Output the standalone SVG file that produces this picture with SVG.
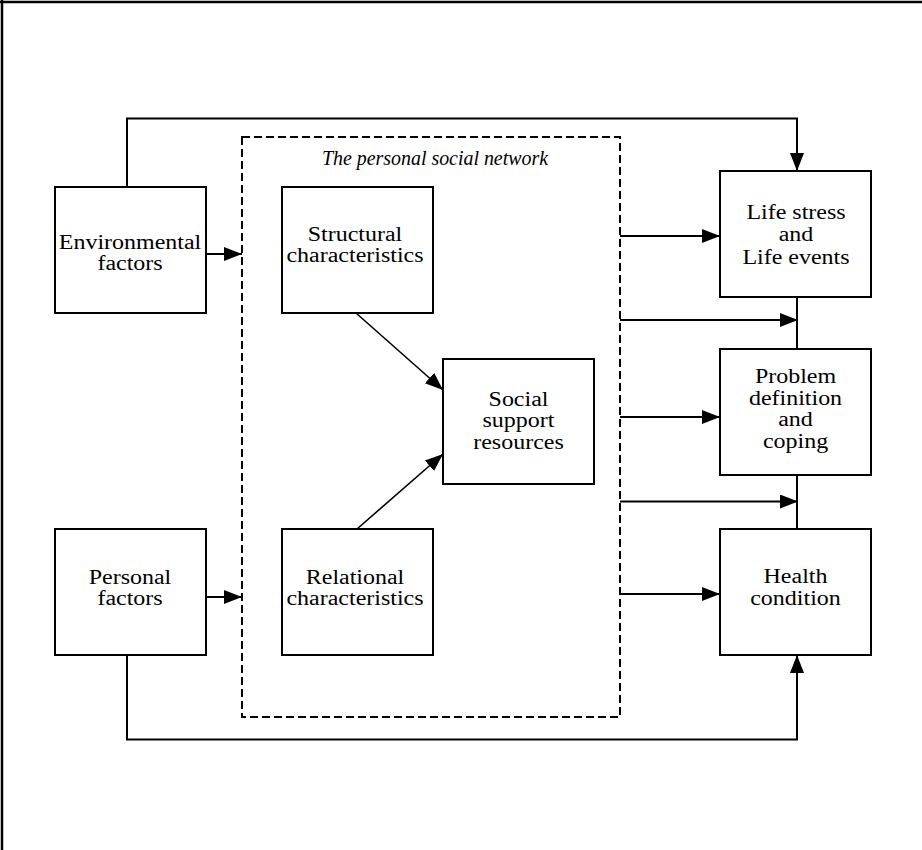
<svg xmlns="http://www.w3.org/2000/svg" width="922" height="850" viewBox="0 0 922 850">
<style>
.box{fill:#fff;stroke:#000;stroke-width:2}
.ln{fill:none;stroke:#000;stroke-width:2}
.dg{fill:none;stroke:#000;stroke-width:1.6}
.t{font-family:"Liberation Serif","Times New Roman",serif;font-size:20.5px;fill:#000;text-anchor:middle}
.ti{font-family:"Liberation Serif","Times New Roman",serif;font-size:20px;font-style:italic;fill:#000;text-anchor:middle}
</style>
<defs>
<marker id="ah" markerUnits="userSpaceOnUse" markerWidth="20" markerHeight="16" refX="18" refY="7" orient="auto">
<path d="M0,0 L18,7 L0,14 Z" fill="#000"/>
</marker>
</defs>
<rect x="0" y="0" width="922" height="850" fill="#fff"/>
<g id="frame">
<line x1="0" y1="2" x2="922" y2="2" stroke="#000" stroke-width="2.5"/>
<line x1="2" y1="0" x2="2" y2="850" stroke="#000" stroke-width="2.5"/>
</g>
<g id="network">
<rect x="242" y="137" width="378" height="580" fill="none" stroke="#000" stroke-width="2" stroke-dasharray="8,4"/>
<text class="ti" x="435" y="165" textLength="226" lengthAdjust="spacingAndGlyphs">The personal social network</text>
</g>
<g id="environmental">
<rect class="box" x="55" y="187" width="151" height="126"/>
<g transform="translate(130,0) scale(1.17,1)"><text class="t" x="0" y="249">Environmental</text><text class="t" x="0" y="270.5">factors</text></g>
</g>
<g id="personal">
<rect class="box" x="55" y="529" width="151" height="126"/>
<g transform="translate(130,0) scale(1.17,1)"><text class="t" x="0" y="584">Personal</text><text class="t" x="0" y="605.5">factors</text></g>
</g>
<g id="structural">
<rect class="box" x="282" y="187" width="151" height="126"/>
<g transform="translate(355,0) scale(1.17,1)"><text class="t" x="0" y="241">Structural</text><text class="t" x="0" y="262.5">characteristics</text></g>
</g>
<g id="relational">
<rect class="box" x="282" y="529" width="151" height="126"/>
<g transform="translate(355,0) scale(1.17,1)"><text class="t" x="0" y="584">Relational</text><text class="t" x="0" y="605.5">characteristics</text></g>
</g>
<g id="support">
<rect class="box" x="443" y="359" width="151" height="125"/>
<g transform="translate(518.5,0) scale(1.17,1)"><text class="t" x="0" y="406">Social</text><text class="t" x="0" y="427.5">support</text><text class="t" x="0" y="449">resources</text></g>
</g>
<g id="lifestress">
<rect class="box" x="720" y="171" width="151" height="126"/>
<g transform="translate(796,0) scale(1.17,1)"><text class="t" x="0" y="219">Life stress</text><text class="t" x="0" y="241.5">and</text><text class="t" x="0" y="264">Life events</text></g>
</g>
<g id="problem">
<rect class="box" x="720" y="349" width="151" height="126"/>
<g transform="translate(795.5,0) scale(1.17,1)"><text class="t" x="0" y="383.5">Problem</text><text class="t" x="0" y="405">definition</text><text class="t" x="0" y="426.5">and</text><text class="t" x="0" y="448">coping</text></g>
</g>
<g id="health">
<rect class="box" x="720" y="529" width="151" height="126"/>
<g transform="translate(795.5,0) scale(1.17,1)"><text class="t" x="0" y="583.5">Health</text><text class="t" x="0" y="605">condition</text></g>
</g>
<g id="connectors">
<path class="ln" d="M127,187 V118.5 H797 V171" marker-end="url(#ah)"/>
<path class="ln" d="M127,655 V739.5 H797 V655" marker-end="url(#ah)"/>
<line class="ln" x1="206" y1="254" x2="242" y2="254" marker-end="url(#ah)"/>
<line class="ln" x1="206" y1="597" x2="242" y2="597" marker-end="url(#ah)"/>
<line class="dg" x1="356" y1="313" x2="443" y2="390" marker-end="url(#ah)"/>
<line class="dg" x1="357" y1="529" x2="443" y2="454" marker-end="url(#ah)"/>
<line class="ln" x1="620" y1="236" x2="720" y2="236" marker-end="url(#ah)"/>
<line class="ln" x1="620" y1="417" x2="720" y2="417" marker-end="url(#ah)"/>
<line class="ln" x1="620" y1="594" x2="720" y2="594" marker-end="url(#ah)"/>
<line class="ln" x1="620" y1="320" x2="798" y2="320" marker-end="url(#ah)"/>
<line class="ln" x1="620" y1="501.5" x2="798" y2="501.5" marker-end="url(#ah)"/>
<line class="ln" x1="797" y1="297" x2="797" y2="349"/>
<line class="ln" x1="797" y1="475" x2="797" y2="529"/>
</g>
</svg>
